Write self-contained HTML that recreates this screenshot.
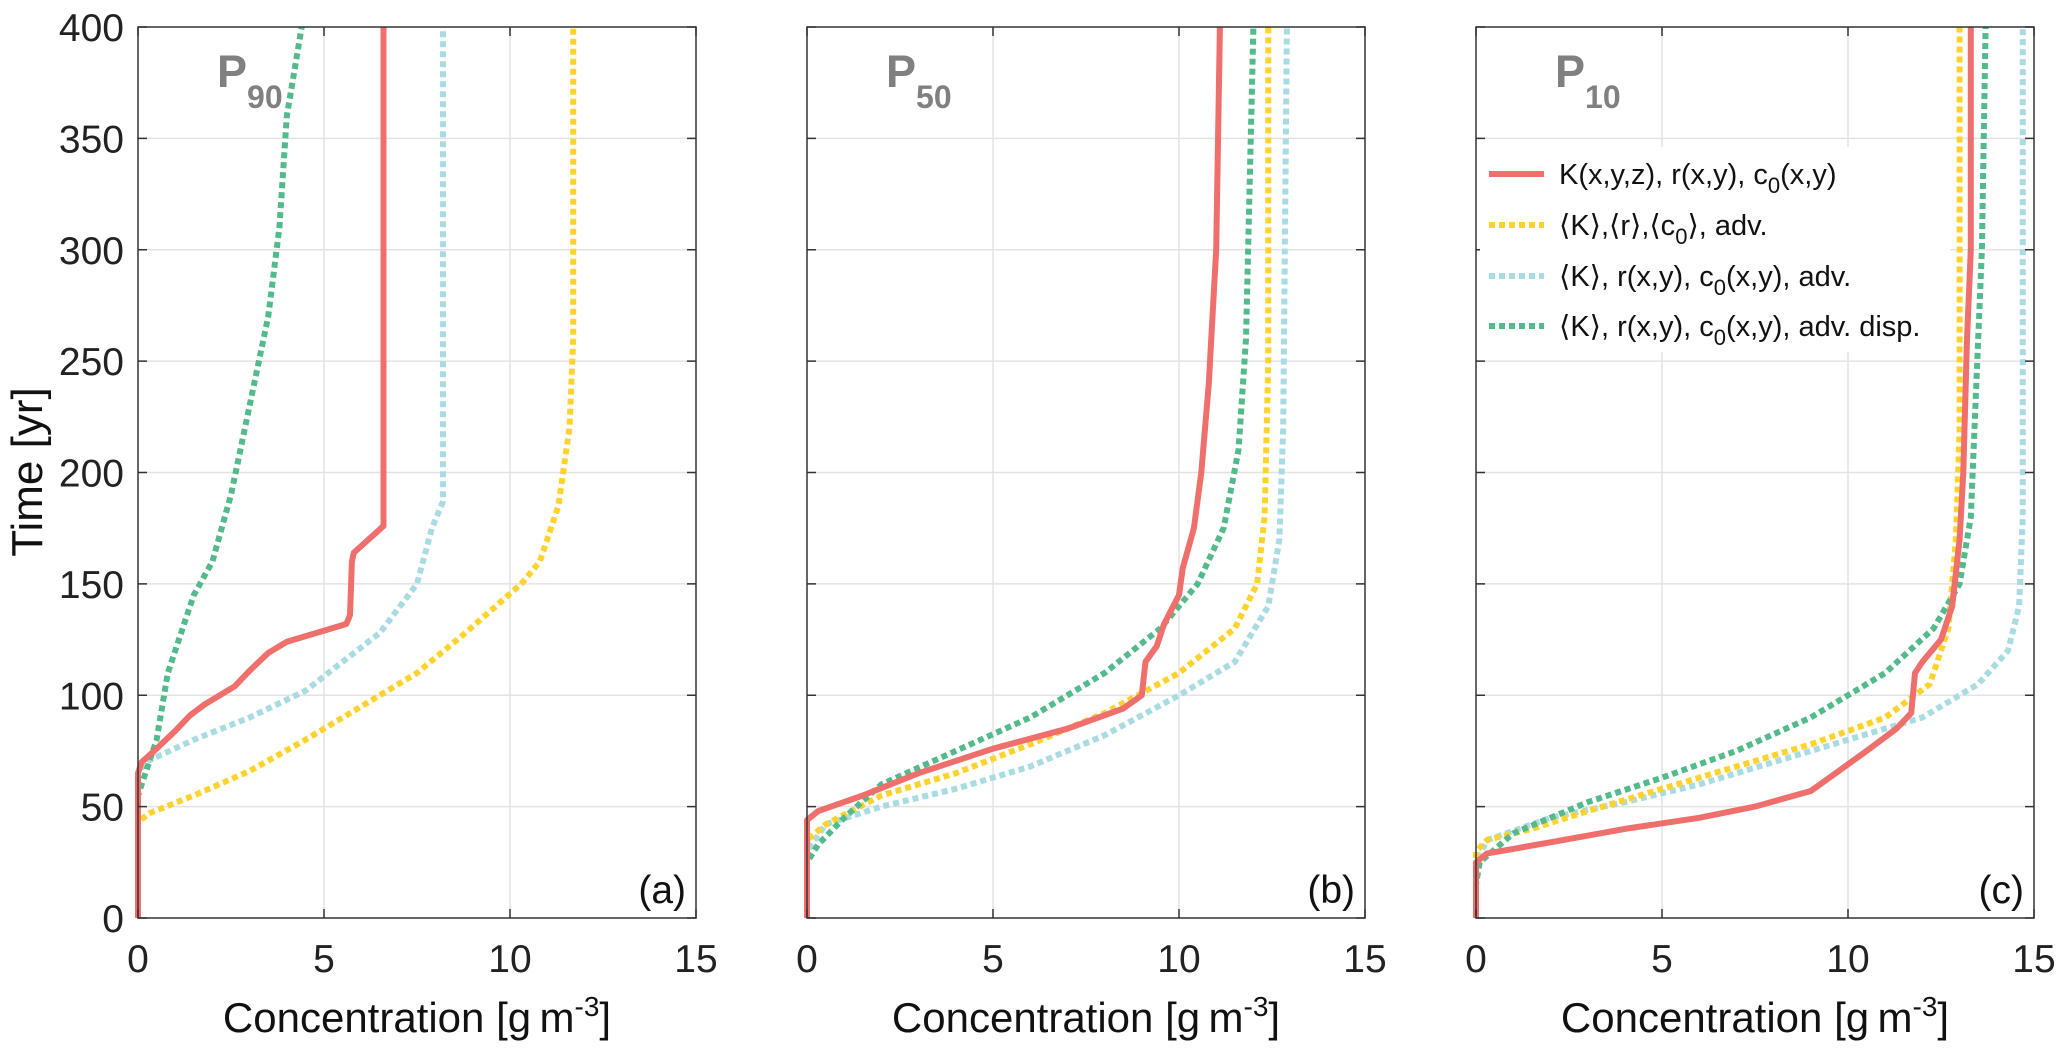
<!DOCTYPE html>
<html><head><meta charset="utf-8"><style>
html,body{margin:0;padding:0;background:#fff;}
svg{display:block;font-family:"Liberation Sans",Arial,sans-serif;}
</style></head><body>
<svg id="fig" width="2067" height="1055" viewBox="0 0 2067 1055" xmlns="http://www.w3.org/2000/svg"></svg>
<script>
// ---- data (concentration, time) per panel ----
const xTicks = [0, 5, 10, 15];
const yTicks = [0, 50, 100, 150, 200, 250, 300, 350, 400];
const panelLetters = ["(a)", "(b)", "(c)"];
const panelPct = ["90", "50", "10"];
const seriesNames = ["K(x,y,z), r(x,y), c0(x,y)", "<K>,<r>,<c0>, adv.", "<K>, r(x,y), c0(x,y), adv.", "<K>, r(x,y), c0(x,y), adv. disp."];

const aRedC = [0,0,0.1,0.5,1.0,1.4,1.8,2.6,3.0,3.5,4.0,5.6,5.7,5.75,5.8,6.6,6.6];
const aRedT = [0,65,70,76,84,91,96,104,111,119,124,132,136,160,164,176,400];
const aYelC = [0,0,0.3,1.5,3,4.5,6,7.5,8.8,10.3,10.8,11.3,11.6,11.7,11.7];
const aYelT = [0,43,47,55,66,80,95,110,128,150,160,185,220,260,400];
const aCyaC = [0,0,0.2,1.5,3,4.5,5.5,6.5,7.5,7.9,8.2,8.2];
const aCyaT = [0,65,70,80,90,102,115,128,150,175,187,400];
const aGrnC = [0,0,0.2,0.5,0.8,1.2,1.5,2,2.5,3,3.5,3.8,4.0,4.4];
const aGrnT = [0,55,65,80,110,130,145,160,190,230,270,310,360,400];

const bRedC = [0,0,0.3,1.5,3,5,7,8.5,9,9.1,9.4,9.6,10,10.1,10.4,10.6,10.8,11,11.1];
const bRedT = [0,44,48,55,65,76,85,94,100,115,122,132,145,157,175,200,240,300,400];
const bYelC = [0,0,0.5,2,4,6,8,10,11.5,12.1,12.3,12.4,12.4];
const bYelT = [0,35,42,55,65,78,92,110,130,150,180,250,400];
const bCyaC = [0,0,0.5,2,4,6,8,10,11.5,12.4,12.7,12.8,12.9];
const bCyaT = [0,30,42,50,58,68,82,100,115,140,170,220,400];
const bGrnC = [0,0,0.3,1,2,4,6,8,9.5,10.5,11.2,11.6,11.8,12];
const bGrnT = [0,25,33,45,60,75,90,110,130,150,175,210,260,400];

const cRedC = [0,0,0.3,1,2,4,6,7.5,9,9.5,10.5,11.3,11.7,11.8,12,12.5,12.8,13,13.1,13.2,13.3,13.3];
const cRedT = [0,25,29,31,34,40,45,50,57,63,75,85,92,110,115,125,140,170,200,260,300,400];
const cYelC = [0,0,0.3,1.5,3,5,7,9,11,12.2,12.7,12.9,13,13];
const cYelT = [0,30,35,40,48,58,68,78,90,105,130,170,220,400];
const cCyaC = [0,0,0.3,2,4,6,8,10,12,13.5,14.3,14.6,14.7,14.7];
const cCyaT = [0,25,35,45,52,60,70,80,90,105,120,140,180,400];
const cGrnC = [0,0,0.1,1,3,5,7,9,11,12.3,13,13.3,13.4,13.6,13.7];
const cGrnT = [0,15,25,38,52,63,75,90,110,130,150,180,220,300,400];

const panelsData = [
  [[aRedC,aRedT],[aYelC,aYelT],[aCyaC,aCyaT],[aGrnC,aGrnT]],
  [[bRedC,bRedT],[bYelC,bYelT],[bCyaC,bCyaT],[bGrnC,bGrnT]],
  [[cRedC,cRedT],[cYelC,cYelT],[cCyaC,cCyaT],[cGrnC,cGrnT]]
];
const colors = ["#EE6F6B","#FFD22E","#A9DBE2","#52BA8B"];
const dashes = [null,"6 4","6 4","6 4"];
const drawOrder = [2,1,3,0];

// ---- layout ----
const NS = "http://www.w3.org/2000/svg";
const svg = document.getElementById("fig");
const lefts = [138, 807, 1476];
const W = 558, TOP = 27, BOT = 918;
function mk(tag, attrs, parent){ const e=document.createElementNS(NS,tag); for(const k in attrs) e.setAttribute(k,attrs[k]); (parent||svg).appendChild(e); return e; }

panelsData.forEach((series, p) => {
  const L = lefts[p];
  const xs = v => L + v/15*W;
  const ys = v => BOT - v/400*(BOT-TOP);
  const g = mk("g",{});
  
  
  mk("rect",{x:L,y:TOP,width:W,height:BOT-TOP,fill:"#fff"},g);
  // grid
  xTicks.forEach(t => { if(t>0&&t<15){ const l=mk("line",{x1:xs(t),x2:xs(t),y1:TOP,y2:BOT,stroke:"#e3e3e3","stroke-width":1.5},g);
      }});
  yTicks.forEach(t => { if(t>0&&t<400){ const l=mk("line",{x1:L,x2:L+W,y1:ys(t),y2:ys(t),stroke:"#e3e3e3","stroke-width":1.5},g);
      }});
  // series
  drawOrder.forEach(s => {
    const [cs, ts] = series[s];
    const pts = cs.map((c,i)=> xs(c).toFixed(1)+","+ys(ts[i]).toFixed(1)).join(" ");
    const a = {points:pts,fill:"none",stroke:colors[s],"stroke-width":6,"stroke-linejoin":"round"};
    if(dashes[s]) a["stroke-dasharray"]=dashes[s];
    const pl = mk("polyline",a,g);
    
    
  });
  // frame and ticks
  const fr = mk("rect",{x:L,y:TOP,width:W,height:BOT-TOP,fill:"none",stroke:"#333","stroke-width":1.5},g);
   
  xTicks.forEach(t => {
    mk("line",{x1:xs(t),x2:xs(t),y1:BOT,y2:BOT-9,stroke:"#333","stroke-width":1.5},g);
    mk("line",{x1:xs(t),x2:xs(t),y1:TOP,y2:TOP+9,stroke:"#333","stroke-width":1.5},g);
    const tx = mk("text",{x:xs(t),y:972,"font-size":39,"text-anchor":"middle",fill:"#222"},g);
    tx.textContent = t;
     
  });
  yTicks.forEach(t => {
    mk("line",{x1:L,x2:L+9,y1:ys(t),y2:ys(t),stroke:"#333","stroke-width":1.5},g);
    mk("line",{x1:L+W,x2:L+W-9,y1:ys(t),y2:ys(t),stroke:"#333","stroke-width":1.5},g);
    if(p===0){
      const ty = mk("text",{x:124,y:ys(t)+14,"font-size":39,"text-anchor":"end",fill:"#222"},g);
      ty.textContent = t;
       
    }
  });
  // x axis title
  const xt = mk("text",{x:L+W/2,y:1032,"font-size":42,"text-anchor":"middle",fill:"#111"},g);
  xt.innerHTML = 'Concentration [g\u2009m<tspan dy="-16" font-size="28">-3</tspan><tspan dy="16">]</tspan>';
   
  // panel letter
  const pl = mk("text",{x:L+W-10,y:903,"font-size":39,"text-anchor":"end",fill:"#111"},g);
  pl.textContent = panelLetters[p];
   
  // percentile label
  const pc = mk("text",{x:L+79,y:87,"font-size":45,"font-weight":"bold",fill:"#808080"},g);
  pc.innerHTML = 'P<tspan dy="21" font-size="32">'+panelPct[p]+'</tspan>';
   
});

// y axis title
const yt = mk("text",{x:0,y:0,"font-size":44,"text-anchor":"middle",fill:"#111",transform:"translate(42,472) rotate(-90)"});
yt.textContent = "Time [yr]";
 

// legend
const lg = mk("g",{});
 
mk("rect",{x:1480,y:147,width:470,height:205,fill:"#fff"},lg);
const legendHTML = [
  'K(x,y,z), r(x,y), c<tspan dy="9" font-size="22">0</tspan><tspan dy="-9">(x,y)</tspan>',
  '\u27E8K\u27E9,\u27E8r\u27E9,\u27E8c<tspan dy="9" font-size="22">0</tspan><tspan dy="-9">\u27E9, adv.</tspan>',
  '\u27E8K\u27E9, r(x,y), c<tspan dy="9" font-size="22">0</tspan><tspan dy="-9">(x,y), adv.</tspan>',
  '\u27E8K\u27E9, r(x,y), c<tspan dy="9" font-size="22">0</tspan><tspan dy="-9">(x,y), adv. disp.</tspan>'
];
const rowY = [174,225,276,326];
seriesNames.forEach((nm,s) => {
  const a = {x1:1489,x2:1544,y1:rowY[s],y2:rowY[s],stroke:colors[s],"stroke-width":6};
  if(dashes[s]) a["stroke-dasharray"]=dashes[s];
  const ln = mk("line",a,lg);
   
  const t = mk("text",{x:1559,y:rowY[s]+10,"font-size":29,fill:"#111"},lg);
  t.innerHTML = legendHTML[s];
   
});
</script>
</body></html>
